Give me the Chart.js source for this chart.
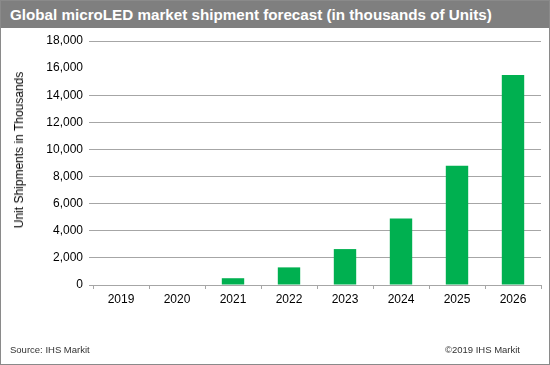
<!DOCTYPE html>
<html>
<head>
<meta charset="utf-8">
<script src="https://cdn.jsdelivr.net/npm/chart.js@4/dist/chart.umd.min.js"></script>
<style>
  body { margin: 0; background: #fff; }
  .frame {
    position: relative; width: 550px; height: 365px;
    box-sizing: border-box; border: 1px solid #8a8a8a; overflow: hidden;
    font-family: "Liberation Sans", Arial, sans-serif;
  }
  .title-bar {
    position: absolute; left: 0; top: 0; width: 100%; height: 27px;
    background: #7f7f7f; color: #fff; font-weight: bold; font-size: 15.2px;
    line-height: 28px; padding-left: 9px; box-sizing: border-box; z-index: 2;
  }
  .y-title {
    position: absolute; left: 18px; top: 149px; font-size: 12px; color: #000;
    white-space: nowrap; transform: translate(-50%, -50%) rotate(-90deg); z-index: 2;
  }
  .foot { position: absolute; top: 343px; font-size: 9.5px; color: #333; z-index: 2; }
  #chart { position: absolute; left: -1px; top: -1px; }
</style>
</head>
<body>
<div class="frame">
  <div class="title-bar">Global microLED market shipment forecast (in thousands of Units)</div>
  <div class="y-title">Unit Shipments in Thousands</div>
  <div class="foot" style="left:9px">Source: IHS Markit</div>
  <div class="foot" style="right:29px">©2019 IHS Markit</div>
  <canvas id="chart" width="550" height="365"></canvas>
</div>
<script>
var years = ["2019", "2020", "2021", "2022", "2023", "2024", "2025", "2026"];
var shipments = [0, 0, 500, 1300, 2650, 4900, 8800, 15500];
var yTicks = [0, 2000, 4000, 6000, 8000, 10000, 12000, 14000, 16000, 18000];

var gridGray = '#a6a6a6';

var ctx = document.getElementById("chart");
var microChart = new Chart(ctx, {
  type: 'bar',
  data: {
    labels: years,
    datasets: [{
      data: shipments,
      backgroundColor: '#00b050',
      borderWidth: 0,
      barPercentage: 0.4,
      categoryPercentage: 1
    }]
  },
  options: {
    responsive: false,
    animation: false,
    layout: { padding: { top: 41, right: 9, bottom: 50, left: 0 } },
    plugins: { legend: { display: false }, tooltip: { enabled: false } },
    scales: {
      x: {
        offset: true,
        border: { display: false },
        grid: { offset: true, drawOnChartArea: false, drawTicks: true, tickLength: 4, color: gridGray },
        ticks: { color: '#000', font: { family: 'Liberation Sans', size: 12 }, padding: 3 },
        afterFit: function(scale) { scale.height = 30; }
      },
      y: {
        min: 0,
        max: 18000,
        border: { display: false },
        afterBuildTicks: function(scale) {
          scale.ticks = yTicks.map(function(v) { return { value: v }; });
        },
        grid: {
          tickLength: 4,
          // the 16,000 line is missing in the original
          color: function(c) { return c.tick && c.tick.value === 16000 ? 'rgba(0,0,0,0)' : gridGray; }
        },
        ticks: {
          color: '#000',
          padding: 6,
          font: { family: 'Liberation Sans', size: 12 },
          callback: function(v) { return v.toLocaleString('en-US'); }
        },
        afterFit: function(scale) { scale.width = 93; }
      }
    }
  }
});
</script>
</body>
</html>
